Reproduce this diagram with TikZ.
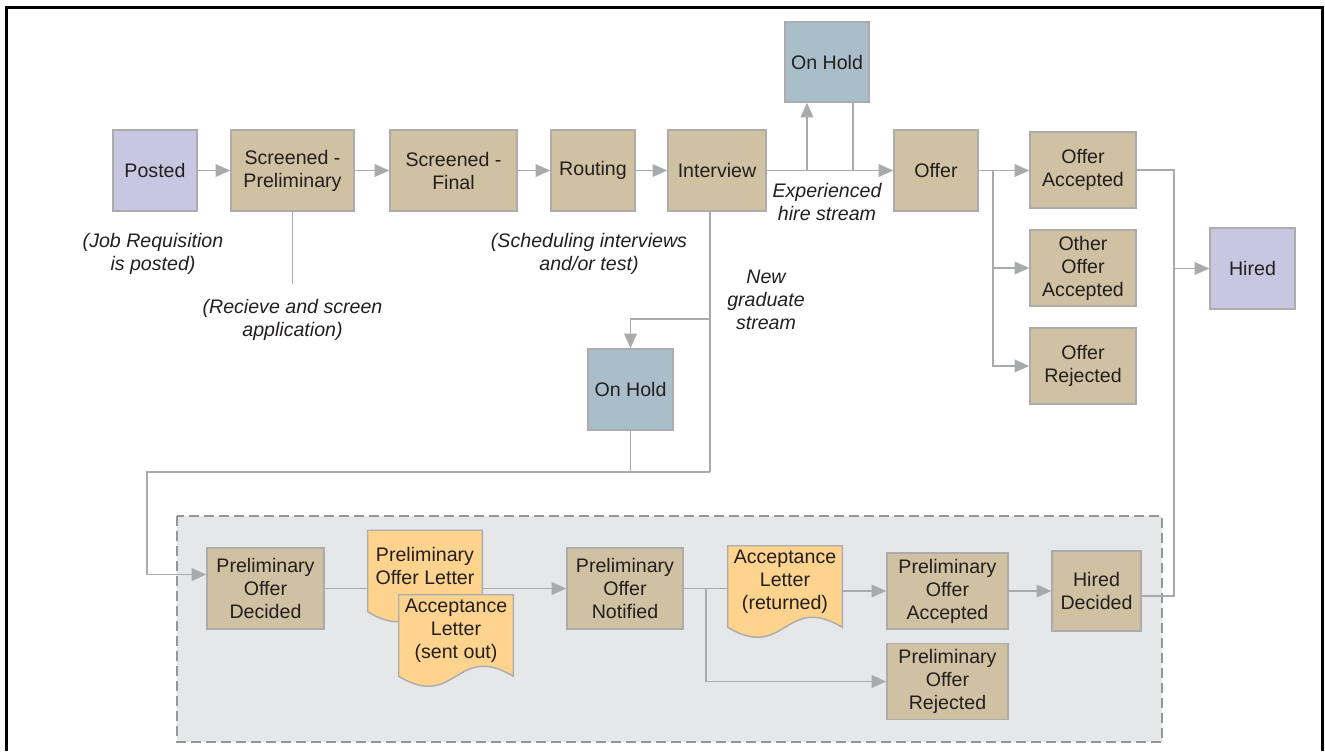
\documentclass[tikz,border=0pt]{standalone}
\usepackage{fontspec}
\setmainfont{Liberation Sans}
\usepackage{tikz}
\usepackage{xcolor}
\usetikzlibrary{arrows.meta,positioning,calc,backgrounds}

\definecolor{tanbox}{RGB}{207,193,161}
\definecolor{lilac}{RGB}{200,198,225}
\definecolor{holdblue}{RGB}{169,190,200}
\definecolor{letteryellow}{RGB}{253,211,142}
\definecolor{edgegray}{RGB}{168,170,173}
\definecolor{boxgray}{RGB}{172,172,172}
\definecolor{panelfill}{RGB}{230,231,233}
\definecolor{panelline}{RGB}{150,150,150}
\definecolor{ink}{RGB}{35,31,32}

% document outline with a wavy bottom, around a named node
\newcommand{\letterpath}[1]{%
  \path[letterbox] (#1.north west) -- (#1.north east) -- ([yshift=-7.5pt]#1.south east)
    .. controls ([yshift=18.5pt]#1.south) and ([yshift=-33.5pt]#1.south) .. ([yshift=-7.5pt]#1.south west) -- cycle;}

\begin{document}
\begin{tikzpicture}[x=0.75pt,y=-0.75pt,node distance=73.5pt,
    font=\fontsize{14.7}{17.25}\selectfont, text=ink,
    box/.style={rectangle,draw=boxgray,line width=1.1pt,fill=tanbox,align=center,inner sep=0pt,
        minimum width=63pt,minimum height=60.75pt},
    endbox/.style={box,fill=lilac},
    holdbox/.style={box,fill=holdblue,minimum height=60pt},
    outcome/.style={box,minimum width=79.5pt,minimum height=57pt},
    prelim/.style={box,minimum width=87.75pt},
    doc/.style={rectangle,align=center,inner sep=0pt,minimum width=85.5pt,minimum height=53.25pt},
    letterbox/.style={draw=boxgray,line width=1.1pt,fill=letteryellow},
    note/.style={align=center,inner sep=0pt,font=\fontsize{14.7}{17.25}\selectfont\itshape},
    flow/.style={draw=edgegray,line width=1.1pt,-{Triangle[length=11pt,width=9.5pt,fill=edgegray]}},
    wire/.style={draw=edgegray,line width=1.1pt},
    panel/.style={draw=panelline,fill=panelfill,line width=1.1pt,dash pattern=on 7.5pt off 3.75pt}]

    \useasboundingbox (0,0) rectangle (1325,751);
    \draw[line width=2pt] (6.5,751) -- (6.5,7.5) -- (1322.5,7.5) -- (1322.5,751);

    % experienced hire stream
    \node[endbox] (posted) at (155,170.5) {Posted};
    \node[box,minimum width=92.25pt] (scrpre) at (292.5,170.5) {Screened -\\Preliminary};
    \node[box,minimum width=95.25pt] (scrfin) at (453.5,170.5) {Screened -\\Final};
    \node[box] (routing) at (593,170.5) {Routing};
    \node[box,minimum width=73.5pt] (interview) at (717,170.5) {Interview};
    \node[holdbox] (holdtop) at (827,62) {On Hold};
    \node[box] (offer) at (936,170.5) {Offer};
    \node[outcome] (offacc) at (1083,170) {Offer\\Accepted};
    \node[outcome, below of=offacc] (othacc) {Other\\Offer\\Accepted};
    \node[outcome, below of=othacc] (offrej) {Offer\\Rejected};
    \node[endbox,minimum width=63.75pt] (hired) at (1252.5,268.5) {Hired};
    \node[holdbox,minimum width=63.75pt,minimum height=60.75pt] (holdmid) at (630.5,389.5) {On Hold};

    \node[note] (jobnote) at (153,253.5) {(Job Requisition\\is posted)};
    \node[note] (recnote) at (292.5,319.5) {(Recieve and screen\\application)};
    \node[note] (schnote) at (589,253.5) {(Scheduling interviews\\and/or test)};
    \node[note] (expnote) at (827,201.5) {Experienced\\hire stream};
    \node[note] (gradnote) at (766,299.5) {New\\graduate\\stream};

    % new graduate stream
    \node[prelim] (podec) at (265.5,588.5) {Preliminary\\Offer\\Decided};
    \node[doc] (plet) at (425,566) {Preliminary\\Offer Letter};
    \node[doc] (psent) at (456,630.5) {Acceptance\\Letter\\(sent out)};
    \node[prelim,minimum width=87pt] (ponot) at (625,588.5) {Preliminary\\Offer\\Notified};
    \node[doc] (pret) at (785,581.5) {Acceptance\\Letter\\(returned)};
    \node[prelim,minimum width=90.75pt,minimum height=57pt] (poacc) at (947.5,591) {Preliminary\\Offer\\Accepted};
    \node[prelim,minimum width=90.75pt,minimum height=57pt] (porej) at (947.5,681.5) {Preliminary\\Offer\\Rejected};
    \node[box,minimum width=66.75pt,minimum height=60pt] (hdec) at (1096.5,591) {Hired\\Decided};

    \coordinate (obr) at (993,170.5);
    \coordinate (hbr) at (1174,268.5);
    \coordinate (ibr) at (710,319);
    \coordinate (jn) at (710,472);
    \coordinate (lc) at (147,472);
    \coordinate (nbr) at (706,589);

    \draw[flow] (posted) -- (scrpre);
    \draw[flow] (scrpre) -- (scrfin);
    \draw[flow] (scrfin) -- (routing);
    \draw[flow] (routing) -- (interview);
    \draw[flow] (interview) -- (offer);
    \draw[flow] (poacc) -- (hdec);

    \draw[flow] ([xshift=-15pt]holdtop.south |- interview.east) -- ([xshift=-15pt]holdtop.south);
    \draw[wire] ([xshift=19.5pt]holdtop.south) -- ([xshift=19.5pt]holdtop.south |- offer.west);
    \draw[flow] (offer.east) -- (offer.east -| offacc.west);
    \draw[flow] (obr) |- (othacc.west);
    \draw[flow] (obr) |- (offrej.west);
    \draw[wire] (offacc.east) -| (hbr) |- ([yshift=-3.75pt]hdec.east);
    \draw[flow] (hbr) -- (hired.west);
    \draw[wire] (scrpre.south) -- ([yshift=10.9pt]recnote.north);

    \draw[wire] ([xshift=-5.25pt]interview.south) -- (jn);
    \draw[flow] (ibr) -| (holdmid.north);
    \draw[wire] (holdmid.south) |- (jn);
    \draw[flow] (jn) -- (lc) |- ([yshift=10.5pt]podec.west);

    \begin{pgfonlayer}{background}
        \draw[panel] (177,516) rectangle (1162,742);
        \draw[flow] (podec) -- (ponot);
        \letterpath{plet}
        \letterpath{psent}
        \letterpath{pret}
    \end{pgfonlayer}

    \draw[wire] (ponot.east) -- (ponot.east -| pret.west);
    \draw[flow] (nbr) |- (porej.west);
    \draw[flow] (poacc.west -| pret.east) -- (poacc.west);
\end{tikzpicture}
\end{document}
